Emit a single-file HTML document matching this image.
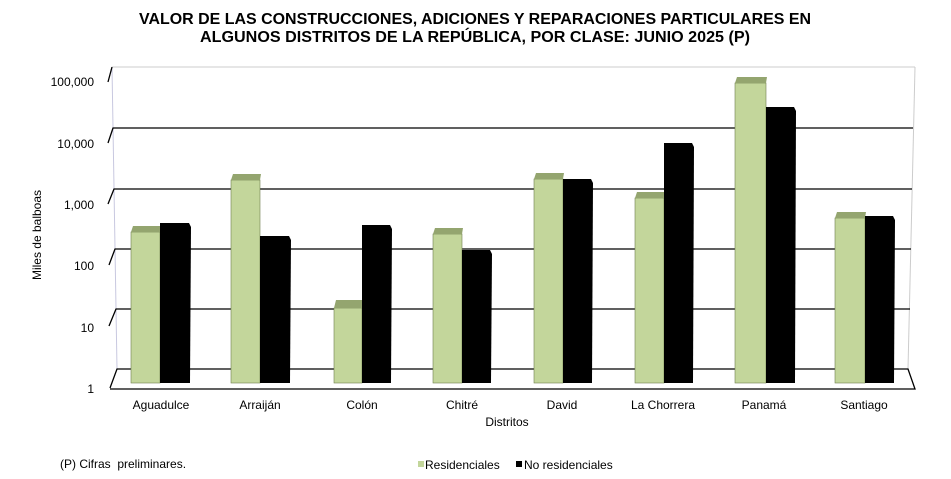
<!DOCTYPE html>
<html><head><meta charset="utf-8"><style>
body{margin:0;background:#fff;width:951px;height:479px;overflow:hidden}
svg{display:block;font-family:"Liberation Sans",Arial,sans-serif}
</style></head><body>
<svg width="951" height="479" viewBox="0 0 951 479" xmlns="http://www.w3.org/2000/svg">
<text x="475" y="24" text-anchor="middle" font-size="15.5" font-weight="bold" textLength="672" lengthAdjust="spacingAndGlyphs">VALOR DE LAS CONSTRUCCIONES, ADICIONES Y REPARACIONES PARTICULARES EN</text>
<text x="475" y="42" text-anchor="middle" font-size="15.5" font-weight="bold" textLength="550" lengthAdjust="spacingAndGlyphs">ALGUNOS DISTRITOS DE LA REPÚBLICA, POR CLASE: JUNIO 2025 (P)</text>
<line x1="112" y1="67" x2="915" y2="67" stroke="#ccc" stroke-width="1"/>
<line x1="112" y1="67" x2="117" y2="369" stroke="#c8c8e0" stroke-width="1"/>
<line x1="915" y1="67" x2="908" y2="369" stroke="#ccc" stroke-width="1"/>
<g stroke="#000" stroke-width="1.3" fill="none">
<polyline points="108,82 112,67"/>
<polyline points="108,143 113,128 913,128"/>
<polyline points="108,204 114,189 912,189"/>
<polyline points="109,265 115,249 911,249"/>
<polyline points="109,326 116,309 910,309"/>
<polyline points="110,388 117,369 908,369 915,389 110,389"/>
</g>
<g font-size="12" text-anchor="end" fill="#000">
<text x="94" y="86">100,000</text>
<text x="94" y="148">10,000</text>
<text x="94" y="209">1,000</text>
<text x="94" y="270">100</text>
<text x="94" y="332">10</text>
<text x="94" y="393">1</text>
</g>
<text transform="translate(41,235) rotate(-90)" text-anchor="middle" font-size="12">Miles de balboas</text>
<g fill="#c3d69b" stroke="#6e7f4e" stroke-width="0.6">
<rect x="131" y="232" width="29" height="151"/>
<rect x="231" y="180" width="29" height="203"/>
<rect x="334" y="308" width="28" height="75"/>
<rect x="433" y="234" width="29" height="149"/>
<rect x="534" y="179" width="29" height="204"/>
<rect x="635" y="198" width="29" height="185"/>
<rect x="735" y="83" width="31" height="300"/>
<rect x="835" y="218" width="30" height="165"/>
</g>
<g fill="#94a56f">
<polygon points="131,232 133,226 161,226 160,232"/>
<polygon points="231,180 233,174 261,174 260,180"/>
<polygon points="334,308 336,300 363,300 362,308"/>
<polygon points="433,234 435,228 463,228 462,234"/>
<polygon points="534,179 536,173 564,173 563,179"/>
<polygon points="635,198 637,192 665,192 664,198"/>
<polygon points="735,83 737,77 767,77 766,83"/>
<polygon points="835,218 837,212 866,212 865,218"/>
</g>
<g fill="#000">
<polygon points="160,223 189,223 191,227 190,383 160,383"/>
<polygon points="260,236 289,236 291,240 290,383 260,383"/>
<polygon points="362,225 390,225 392,229 391,383 362,383"/>
<polygon points="462,250 490,250 492,254 491,383 462,383"/>
<polygon points="563,179 591,179 593,183 592,383 563,383"/>
<polygon points="664,143 692,143 694,147 693,383 664,383"/>
<polygon points="766,107 794,107 796,111 795,383 766,383"/>
<polygon points="865,216 893,216 895,220 894,383 865,383"/>
</g>
<g font-size="12" text-anchor="middle">
<text x="161" y="409">Aguadulce</text>
<text x="260" y="409">Arraiján</text>
<text x="362" y="409">Colón</text>
<text x="462" y="409">Chitré</text>
<text x="562" y="409">David</text>
<text x="663" y="409">La Chorrera</text>
<text x="764" y="409">Panamá</text>
<text x="864" y="409">Santiago</text>
<text x="507" y="426">Distritos</text>
</g>
<text x="60" y="468" font-size="12" xml:space="preserve">(P) Cifras  preliminares.</text>
<rect x="418" y="461" width="6" height="6" fill="#c3d69b"/>
<text x="425" y="469" font-size="12">Residenciales</text>
<rect x="516" y="461" width="6" height="6" fill="#000"/>
<text x="524" y="469" font-size="12">No residenciales</text>
</svg>
</body></html>
